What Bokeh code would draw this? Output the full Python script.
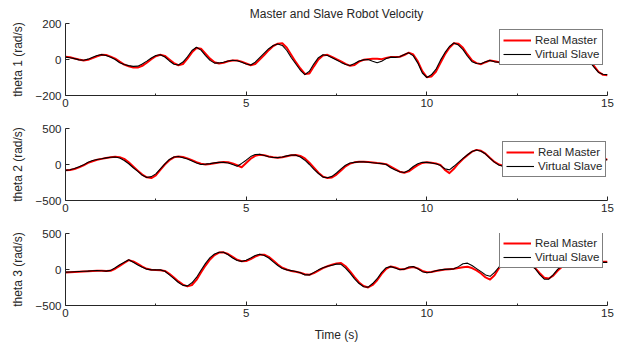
from bokeh.plotting import figure
from bokeh.layouts import column
from bokeh.models import FixedTicker
from bokeh.embed import file_html
from bokeh.resources import INLINE

# sample times (s), 0.125 s apart
TIME = [i * 0.125 for i in range(121)]

theta1_master = [
    15, 12, 6, 0, -5, -2, 8, 18,
    26, 25, 16, 5, -12, -28, -38, -44,
    -45, -35, -18, 2, 18, 26, 20, 0,
    -20, -32, -25, 5, 40, 64, 60, 32,
    5, -15, -22, -18, -10, -5, -5, -12,
    -22, -32, -25, 0, 25, 52, 75, 88,
    90, 65, 25, -15, -50, -80, -78, -38,
    0, 22, 26, 15, 2, -10, -24, -35,
    -30, -12, -2, 2, 4, 4, 2, 8,
    14, 14, 15, 25, 38, 28, -10, -65,
    -98, -95, -68, -20, 28, 65, 90, 88,
    65, 28, -5, -20, -26, -15, -5, -10,
    -15, -12, -2, 8, 14, 12, 2, -6,
    -10, -6, 3, 10, 14, 10, 5, 2,
    4, 8, 10, 6, -6, -35, -68, -85,
    -88]
theta1_slave = [
    13, 10, 5, -2, -4, 2, 12, 22,
    27, 22, 13, 0, -18, -28, -34, -38,
    -37, -25, -9, 8, 22, 26, 14, -8,
    -26, -31, -14, 15, 50, 68, 52, 22,
    -5, -20, -19, -15, -8, -4, -7, -15,
    -25, -31, -15, 10, 35, 60, 78, 86,
    78, 50, 10, -25, -60, -84, -65, -24,
    10, 26, 22, 10, -3, -16, -28, -33,
    -22, -8, -2, 0, -10, -18, -10, 5,
    13, 12, 15, 28, 37, 20, -20, -75,
    -100, -85, -55, -5, 38, 72, 92, 80,
    55, 18, -12, -22, -24, -12, -5, -13,
    -15, -10, 0, 10, 15, 10, 0, -8,
    -10, -5, 5, 12, 15, 10, 5, 2,
    5, 10, 10, 5, -10, -42, -72, -82,
    -84]

theta2_master = [
    -80, -75, -62, -40, -12, 22, 45, 65,
    78, 90, 100, 106, 102, 78, 30, -28,
    -85, -140, -178, -188, -150, -75, 0, 60,
    100, 112, 105, 85, 60, 32, 10, 0,
    8, 18, 28, 35, 30, 15, -10, -38,
    20, 80, 120, 135, 130, 112, 100, 95,
    100, 115, 128, 132, 118, 85, 25, -45,
    -115, -168, -188, -180, -140, -85, -25, 12,
    30, 38, 38, 34, 28, 20, 14, 5,
    -30, -65, -100, -115, -95, -50, -8, 22,
    30, 25, 15, -5, -75, -120, -60, 15,
    75, 130, 178, 203, 190, 150, 90, 35,
    0, -20, -30, -15, 10, 30, 40, 35,
    20, 5, -5, -5, 5, 15, 25, 30,
    30, 25, 20, 25, 35, 45, 55, 65,
    72]
theta2_slave = [
    -81, -72, -55, -30, -5, 30, 55, 70,
    80, 92, 100, 103, 90, 55, 10, -45,
    -95, -150, -180, -168, -130, -60, 10, 70,
    105, 112, 95, 75, 50, 22, 0, 5,
    12, 22, 30, 30, 20, 0, -23, 15,
    60, 110, 138, 143, 125, 108, 98, 95,
    105, 120, 132, 130, 105, 60, 0, -68,
    -125, -175, -185, -165, -118, -60, -10, 20,
    30, 36, 36, 32, 25, 18, 12, 0,
    -45, -75, -100, -112, -80, -28, 10, 30,
    30, 22, 10, -15, -60, -75, -25, 30,
    85, 135, 180, 202, 185, 145, 85, 30,
    -10, -25, -30, -15, 10, 30, 40, 35,
    20, 5, -5, -5, 5, 15, 25, 30,
    30, 25, 20, 25, 35, 45, 55, 62,
    68]

theta3_master = [
    -40, -38, -35, -32, -28, -25, -20, -16,
    -16, -22, -18, 10, 50, 90, 130, 112,
    78, 40, 10, -3, -8, -10, -20, -60,
    -110, -165, -210, -235, -215, -145, -40, 55,
    140, 200, 235, 238, 215, 175, 135, 115,
    118, 145, 180, 205, 205, 175, 125, 70,
    25, 0, -22, -32, -45, -65, -72, -50,
    -15, 18, 45, 65, 85, 90, 45, -25,
    -105, -180, -230, -250, -215, -150, -60, 10,
    42, 28, 5, 5, 25, 35, 15, -20,
    -38, -35, -22, -10, 0, 5, 10, 22,
    32, 38, 20, -12, -55, -110, -140, -80,
    20, 85, 125, 145, 148, 130, 100, 65,
    20, -50, -115, -125, -85, -15, 40, 75,
    95, 108, 105, 98, 95, 98, 103, 106,
    108]
theta3_slave = [
    -36, -34, -31, -28, -25, -22, -18, -14,
    -18, -22, -12, 25, 65, 100, 135, 100,
    62, 30, 5, -5, -4, -5, -25, -75,
    -126, -180, -220, -228, -185, -110, -10, 85,
    165, 215, 240, 240, 205, 160, 125, 113,
    128, 160, 195, 212, 195, 160, 105, 55,
    15, -5, -16, -28, -45, -75, -75, -40,
    -5, 25, 46, 60, 75, 72, 20, -50,
    -130, -195, -240, -245, -195, -128, -40, 25,
    40, 20, -3, 5, 35, 40, 10, -30,
    -45, -35, -18, -5, 2, 5, 9, 40,
    80, 88, 55, 12, -30, -75, -95, -40,
    35, 90, 130, 150, 150, 130, 100, 60,
    10, -70, -135, -135, -70, 5, 50, 80,
    100, 110, 105, 95, 90, 92, 98, 100,
    99]

X_TICKS = [0, 5, 10, 15]
X_MINOR = [2.5, 7.5, 12.5]

FONT = "Liberation Sans"
TXT = "#262626"

def make_panel(master, slave, ylabel, yr, yticks, top, bottom, legend_xy, title=None, xlabel=None):
    p = figure(width=621, height=top + 72 + bottom, frame_width=542, frame_height=72,
               x_range=(0, 15), y_range=yr, output_backend="svg", toolbar_location=None,
               min_border_left=65, min_border_right=14, min_border_top=top, min_border_bottom=bottom,
               title=title)
    p.outline_line_color = None
    p.xgrid.visible = False
    p.ygrid.visible = False
    p.background_fill_color = "white"
    p.border_fill_color = "white"
    if title:
        p.title.text_font = FONT
        p.title.text_font_size = "12px"
        p.title.text_font_style = "normal"
        p.title.text_color = TXT
        p.title.align = "center"
        p.title.standoff = 6
    p.line(TIME, master, line_color="#ff0000", line_width=2, line_join="round",
           legend_label="Real Master")
    p.line(TIME, slave, line_color="black", line_width=1.1, line_join="round",
           legend_label="Virtual Slave")
    p.xaxis.ticker = FixedTicker(ticks=X_TICKS, minor_ticks=X_MINOR)
    p.yaxis.ticker = FixedTicker(ticks=yticks)
    for ax in (p.xaxis[0], p.yaxis[0]):
        ax.axis_line_color = TXT
        ax.major_tick_line_color = TXT
        ax.minor_tick_line_color = TXT
        ax.major_tick_in = 4
        ax.major_tick_out = 0
        ax.minor_tick_in = 2
        ax.minor_tick_out = 0
        ax.major_label_text_font = FONT
        ax.major_label_text_font_size = "11.5px"
        ax.major_label_text_color = TXT
        ax.axis_label_text_font = FONT
        ax.axis_label_text_font_size = "12px"
        ax.axis_label_text_font_style = "normal"
        ax.axis_label_text_color = TXT
    p.yaxis.minor_tick_line_color = None
    p.xaxis.major_label_standoff = 3
    p.yaxis.major_label_standoff = 4
    p.yaxis.axis_label = ylabel
    p.yaxis.axis_label_standoff = 8
    if xlabel:
        p.xaxis.axis_label = xlabel
        p.xaxis.axis_label_standoff = 8
    lg = p.legend[0]
    lg.location = legend_xy
    lg.border_line_color = "black"
    lg.border_line_width = 1
    lg.background_fill_color = "white"
    lg.background_fill_alpha = 1
    lg.label_text_font = FONT
    lg.label_text_font_size = "11.5px"
    lg.label_text_color = TXT
    lg.padding = 3
    lg.spacing = 0
    lg.margin = 0
    lg.glyph_width = 28
    lg.glyph_height = 14
    lg.label_height = 14
    lg.label_standoff = 4
    return p

p1 = make_panel(theta1_master, theta1_slave, "theta 1 (rad/s)", (-200, 200), [-200, 0, 200],
                23, 15, (434, 30), title="Master and Slave Robot Velocity")
p2 = make_panel(theta2_master, theta2_slave, "theta 2 (rad/s)", (-500, 500), [-500, 0, 500],
                18, 15, (437, 23))
p3 = make_panel(theta3_master, theta3_slave, "theta 3 (rad/s)", (-500, 500), [-500, 0, 500],
                18, 43, (434, 37), xlabel="Time (s)")

layout = column(p1, p2, p3, spacing=0)
open("out.html", "w").write(file_html(layout, INLINE))
